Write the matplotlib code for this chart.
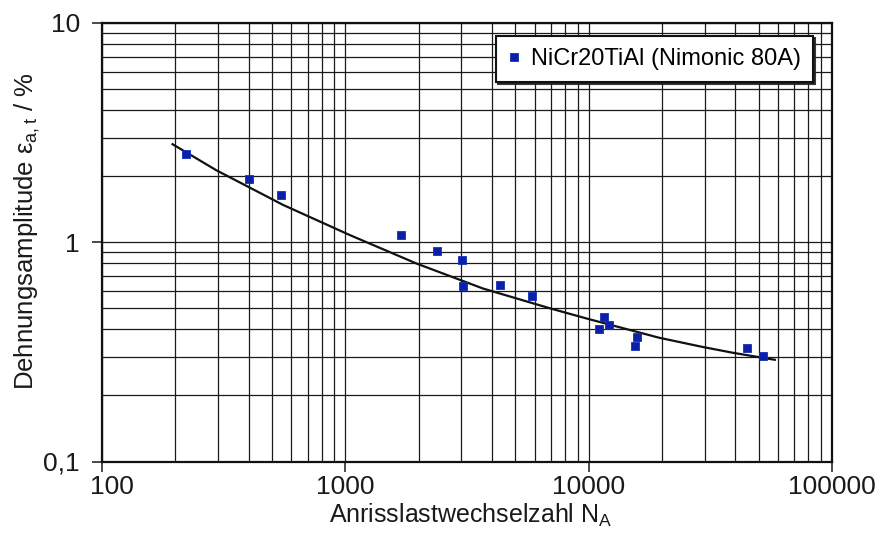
import matplotlib
matplotlib.use("Agg")
import matplotlib.pyplot as plt
from matplotlib.ticker import FixedLocator, FixedFormatter, LogLocator, NullFormatter
from matplotlib.transforms import ScaledTranslation

plt.rcParams['font.family'] = ['Liberation Sans', 'DejaVu Sans']
plt.rcParams['mathtext.fontset'] = 'custom'
plt.rcParams['mathtext.rm'] = 'Liberation Sans'

# measured data points (cycles to crack initiation, strain amplitude in %)
n_cycles = [221, 403, 543, 1698, 2389, 3027, 3041, 4324, 5846,
            11560, 12093, 11033, 15770, 15513, 44670, 52240]
strain = [2.52, 1.94, 1.64, 1.077, 0.913, 0.830, 0.632, 0.637, 0.571,
          0.456, 0.418, 0.404, 0.370, 0.338, 0.329, 0.303]

# fitted curve
curve_n = [195, 295, 555, 1040, 1960, 3680, 6920, 9730, 19450, 29400, 39300, 58200]
curve_eps = [2.80, 2.13, 1.48, 1.08, 0.80, 0.615, 0.50, 0.45, 0.367, 0.333, 0.313, 0.291]

x_ticks = [100, 1000, 10000, 100000]
x_ticklabels = ["100", "1000", "10000", "100000"]
y_ticks = [0.1, 1, 10]
y_ticklabels = ["0,1", "1", "10"]

series_label = "NiCr20TiAl (Nimonic 80A)"

fig = plt.figure(figsize=(8.94, 5.40), dpi=100)
ax = fig.add_axes([102/894, 1-461.5/540, 730/894, 438.5/540])
ax.set_xscale('log')
ax.set_yscale('log')
ax.set_xlim(100, 100000)
ax.set_ylim(0.1, 10)

ax.xaxis.set_major_locator(FixedLocator(x_ticks))
ax.xaxis.set_major_formatter(FixedFormatter(x_ticklabels))
ax.yaxis.set_major_locator(FixedLocator(y_ticks))
ax.yaxis.set_major_formatter(FixedFormatter(y_ticklabels))
ax.xaxis.set_minor_locator(LogLocator(base=10, subs=range(2, 10)))
ax.yaxis.set_minor_locator(LogLocator(base=10, subs=range(2, 10)))
ax.xaxis.set_minor_formatter(NullFormatter())
ax.yaxis.set_minor_formatter(NullFormatter())

ax.grid(True, which='both', color='#1a1a1a', linewidth=0.9)
ax.set_axisbelow(True)

ax.tick_params(which='major', direction='out', length=7, width=1.1,
               labelsize=19, colors='#1a1a1a')
ax.tick_params(axis='x', which='major', pad=3)
ax.tick_params(axis='y', which='major', pad=9)
ax.tick_params(which='minor', length=0)
for sp in ax.spines.values():
    sp.set_linewidth(1.6)
    sp.set_color('#111111')

# the first x tick label sits slightly right of its tick in the reference
first_tick = ax.xaxis.get_major_ticks()[0]
first_tick.label1.set_transform(first_tick.label1.get_transform() +
                                ScaledTranslation(10/100, 0, fig.dpi_scale_trans))

ax.plot(curve_n, curve_eps, color='#111111', linewidth=1.6, zorder=3)
ax.plot(n_cycles, strain, linestyle='none', marker='s', markersize=6,
        color='#0c1fa8', markeredgecolor='#1230b8', markeredgewidth=0.6,
        label=series_label, zorder=4)

leg = ax.legend(loc='upper right', bbox_to_anchor=(0.974, 0.970), fontsize=17,
                frameon=True, fancybox=False, edgecolor='#111111',
                framealpha=1.0, handlelength=0.55, handletextpad=0.45,
                borderpad=0.5, borderaxespad=0.0, markerscale=0.9,
                shadow={'ox': 1.5, 'oy': -1.5, 'color': '#222222', 'alpha': 0.9})
leg.get_frame().set_linewidth(1.5)

ax.set_xlabel(r"Anrisslastwechselzahl N$_\mathregular{A}$", fontsize=18,
              color='#1a1a1a')
ax.xaxis.set_label_coords(0.505, -0.093)
ax.set_ylabel(r"Dehnungsamplitude ε$_\mathregular{a,t}$ / %", fontsize=18.5,
              color='#1a1a1a')
ax.yaxis.set_label_coords(-0.082, 0.526)

fig.savefig("out.png", dpi=100, facecolor='white')
